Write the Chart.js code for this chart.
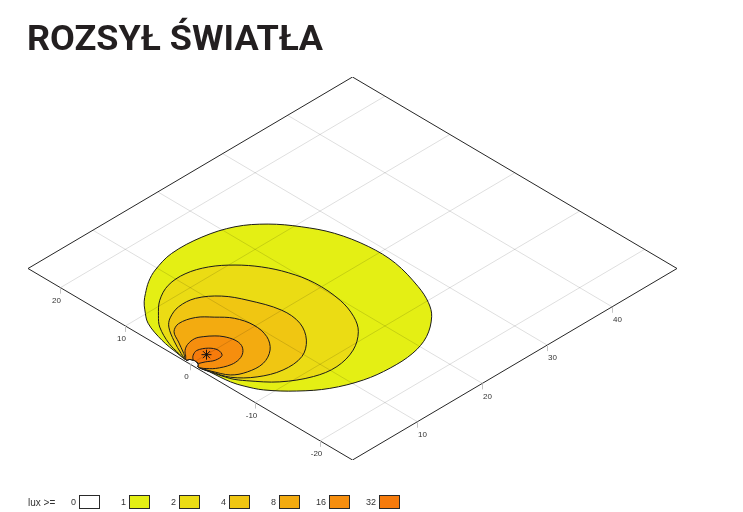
<!DOCTYPE html>
<html>
<head>
<meta charset="utf-8">
<title>Rozsył światła</title>
<script src="https://cdn.jsdelivr.net/npm/chart.js@4.4.0/dist/chart.umd.min.js"></script>
<style>
  html, body { margin: 0; padding: 0; background: #fff; }
  #wrap { width: 743px; height: 512px; }
</style>
</head>
<body>
<div id="wrap"><canvas id="lightChart" width="743" height="512"></canvas></div>
<script>
// ground plane (metres)
const xRange = [0, 50];
const yRange = [-25, 25];
const xTicks = [10, 20, 30, 40];
const yTicks = [20, 10, 0, -10, -20];

// legend
const luxLevels = [0, 1, 2, 4, 8, 16, 32];
const luxColors = ['#ffffff', '#e4ef14', '#ebdc14', '#f0c612', '#f3ab10', '#f68e0e', '#f67b0c'];

// isolux lines, [x, y] in metres
const iso1 = [[0.5,-2.5],[0.8,-5.4],[1.3,-7.0],[2.3,-9.0],[4.7,-11.7],[7.6,-13.9],[11.3,-15.4],[14.9,-15.9],
  [18.6,-15.7],[21.8,-14.6],[24.8,-12.4],[26.4,-10.3],[27.7,-7.4],[29.0,-2.6],[29.1,1.6],[28.2,6.0],
  [26.5,9.4],[24.3,12.3],[21.4,14.5],[17.5,15.7],[13.0,15.9],[9.6,15.0],[7.6,14.0],[5.8,12.7],[4.6,11.7],
  [3.6,10.6],[2.1,8.6],[0.95,5.3],[0.45,2.5]];
const iso2 = [[0.55,-2.5],[1.2,-4.9],[2.2,-6.5],[4.6,-9.2],[7.9,-11.1],[11.0,-11.6],[14.4,-10.7],[17.2,-8.7],
  [18.8,-6.4],[19.9,-3.2],[20.2,1.0],[19.5,4.4],[18.2,7.2],[16.4,9.5],[14.1,11.3],[11.4,12.2],
  [8.6,12.0],[6.0,10.7],[3.9,8.8],[2.5,7.2],[1.1,4.4],[0.5,2.2]];
const iso4 = [[0.6,-2.5],[1.4,-4.8],[3.5,-6.8],[6.4,-7.9],[9.6,-7.6],[12.1,-5.8],[13.8,-3.1],[14.1,0.0],
  [12.8,3.9],[11.3,6.5],[9.0,8.2],[6.6,8.4],[4.5,7.6],[3.2,6.5],[1.8,4.3],[0.7,2.1]];
const iso8 = [[0.7,-2.5],[1.7,-4.5],[3.4,-5.4],[5.75,-5.5],[8.0,-4.3],[9.5,-2.3],[10.0,0.2],[9.4,2.6],
  [8.0,4.3],[6.5,5.7],[4.4,6.2],[3.0,5.5],[2.0,3.8],[0.9,1.9]];
const iso16 = [[0.5,-1.6],[1.4,-2.5],[3.1,-3.2],[4.5,-3.1],[5.6,-2.5],[6.4,-1.5],[6.6,-0.3],[6.2,1.0],
  [5.6,1.8],[4.6,2.6],[3.7,3.0],[2.4,2.8],[1.4,2.2],[0.7,1.4]];
const iso32 = [[0.75,-0.55],[1.46,-0.85],[2.45,-1.4],[3.6,-1.3],[4.0,-0.3],[3.5,0.7],[2.3,1.3],[1.4,0.95],
  [0.85,0.4],[0.8,0]];
// dark spot at the pole foot
const notchArc = [[0.25,0.9],[0.6,0.65],[0.85,0],[0.6,-0.65],[0.25,-1.0]];
const aimPoint = [2.5, 0];

const titleText = 'ROZSYŁ ŚWIATŁA';

// oblique view: u = x - y across, v = x + y up
function proj(p) {
  return { x: p[0] - p[1], y: p[0] + p[1] };
}

function closed(pts) {
  return pts.concat([pts[0]]).map(proj);
}

const datasets = [];

// isolux areas, lowest level painted first
[iso1, iso2, iso4, iso8, iso16].forEach((c, i) => {
  datasets.push({
    data: closed(c.concat(notchArc)),
    backgroundColor: luxColors[i + 1],
    borderColor: '#1b1b1b',
    borderWidth: 1,
    fill: 'shape',
    tension: 0.35,
    order: 20 - i
  });
});
datasets.push({
  data: closed(iso32),
  backgroundColor: luxColors[6],
  borderColor: '#1b1b1b',
  borderWidth: 1,
  fill: 'shape',
  tension: 0.35,
  order: 15
});

// grid
xTicks.forEach(t => {
  datasets.push({
    data: [proj([t, yRange[0]]), proj([t, yRange[1]])],
    borderColor: 'rgba(0,0,0,0.13)', borderWidth: 1, order: 5
  });
});
yTicks.forEach(t => {
  datasets.push({
    data: [proj([xRange[0], t]), proj([xRange[1], t])],
    borderColor: 'rgba(0,0,0,0.13)', borderWidth: 1, order: 5
  });
});

// plane border
datasets.push({
  data: closed([[xRange[0], yRange[0]], [xRange[1], yRange[0]], [xRange[1], yRange[1]], [xRange[0], yRange[1]]]),
  borderColor: '#262626', borderWidth: 1, order: 4
});

// luminaire aim point
datasets.push({
  data: [proj(aimPoint)],
  showLine: false,
  pointStyle: 'star',
  pointRadius: 5,
  borderColor: '#111',
  borderWidth: 1,
  order: 1
});

datasets.forEach(d => {
  if (d.showLine === undefined) d.showLine = true;
  if (d.pointRadius === undefined) d.pointRadius = 0;
  if (d.fill === undefined) d.fill = false;
});

const axisLabels = {
  id: 'axisLabels',
  afterDraw(chart) {
    const { ctx, scales: { x, y } } = chart;
    ctx.save();
    ctx.strokeStyle = '#c4c4c4';
    ctx.lineWidth = 1;
    ctx.fillStyle = '#333';
    ctx.font = '8px "Liberation Sans", Arial, sans-serif';
    ctx.textAlign = 'center';
    ctx.textBaseline = 'middle';
    xTicks.forEach(t => {
      const p = proj([t, yRange[0]]);
      const px = Math.round(x.getPixelForValue(p.x)) + 0.5;
      const py = y.getPixelForValue(p.y);
      ctx.beginPath(); ctx.moveTo(px, py); ctx.lineTo(px, py + 6); ctx.stroke();
      ctx.fillText(String(t), px + 5, py + 13);
    });
    yTicks.forEach(t => {
      const p = proj([xRange[0], t]);
      const px = Math.round(x.getPixelForValue(p.x)) + 0.5;
      const py = y.getPixelForValue(p.y);
      ctx.beginPath(); ctx.moveTo(px, py); ctx.lineTo(px, py + 6); ctx.stroke();
      ctx.fillText(String(t), px - 4, py + 13);
    });
    ctx.restore();
  }
};

const titleAndLegend = {
  id: 'titleAndLegend',
  afterDraw(chart) {
    const ctx = chart.ctx;
    ctx.save();
    // title, squeezed to the width of the condensed original
    ctx.fillStyle = '#231f20';
    ctx.font = 'bold 35px Roboto, "DejaVu Sans", sans-serif';
    ctx.textBaseline = 'alphabetic';
    const w = ctx.measureText(titleText).width;
    ctx.translate(27, 50);
    ctx.scale(296 / w, 1);
    ctx.fillText(titleText, 0, 0);
    ctx.restore();

    // legend
    ctx.save();
    ctx.fillStyle = '#333';
    ctx.font = '10px "Liberation Sans", Arial, sans-serif';
    ctx.textBaseline = 'middle';
    ctx.textAlign = 'left';
    ctx.fillText('lux >=', 28, 503);
    ctx.font = '9px "Liberation Sans", Arial, sans-serif';
    ctx.textAlign = 'right';
    luxLevels.forEach((lv, i) => {
      const bx = 79 + i * 50;
      ctx.fillStyle = '#333';
      ctx.fillText(String(lv), bx - 3, 503);
      ctx.fillStyle = luxColors[i];
      ctx.fillRect(bx, 495, 21, 14);
      ctx.strokeStyle = '#2a2a2a';
      ctx.lineWidth = 1;
      ctx.strokeRect(bx + 0.5, 495.5, 20, 13);
    });
    ctx.restore();
  }
};

new Chart(document.getElementById('lightChart'), {
  type: 'scatter',
  data: { datasets: datasets },
  options: {
    responsive: false,
    animation: false,
    events: [],
    layout: { padding: { left: 28, right: 66, top: 77, bottom: 52 } },
    scales: {
      x: { type: 'linear', min: xRange[0] - yRange[1], max: xRange[1] - yRange[0], display: false },
      y: { type: 'linear', min: xRange[0] + yRange[0], max: xRange[1] + yRange[1], display: false }
    },
    plugins: {
      legend: { display: false },
      tooltip: { enabled: false },
      title: { display: false }
    }
  },
  plugins: [axisLabels, titleAndLegend]
});
</script>
</body>
</html>
